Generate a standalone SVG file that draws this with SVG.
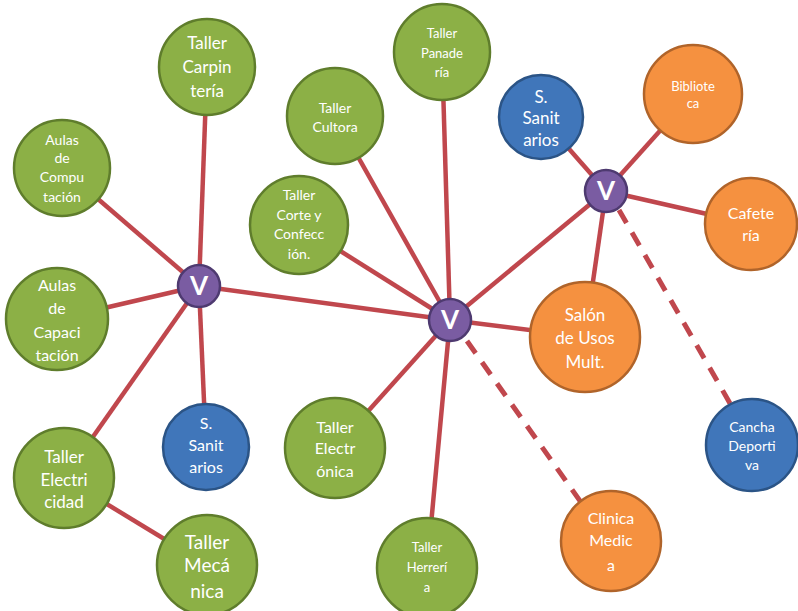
<svg xmlns="http://www.w3.org/2000/svg" width="798" height="611" viewBox="0 0 798 611">
<style>
.c{stroke:#c0474d;stroke-width:4.5;fill:none}
.d{stroke:#c0474d;stroke-width:5;fill:none;stroke-dasharray:15 11}
.g{fill:#8cb046;stroke:#5f7d2c;stroke-width:2.5}
.o{fill:#f59140;stroke:#b0642a;stroke-width:2.5}
.b{fill:#4076ba;stroke:#2b5486;stroke-width:2.5}
.p{fill:#7a5ca2;stroke:#4e3a70;stroke-width:2.5}
text{fill:#fff;font-family:Lato,"Open Sans","Liberation Sans",sans-serif;text-anchor:middle}
.v{font-size:26px;font-weight:bold}
</style>
<rect width="798" height="611" fill="#fff"/>
<g id="connectors">
<line class="c" x1="199" y1="286" x2="207" y2="67"/>
<line class="c" x1="199" y1="286" x2="62" y2="168"/>
<line class="c" x1="199" y1="286" x2="57" y2="319"/>
<line class="c" x1="199" y1="286" x2="64" y2="478"/>
<line class="c" x1="199" y1="286" x2="206" y2="447"/>
<line class="c" x1="199" y1="286" x2="450" y2="320"/>
<line class="c" x1="450" y1="320" x2="335" y2="116"/>
<line class="c" x1="450" y1="320" x2="442" y2="52"/>
<line class="c" x1="450" y1="320" x2="299" y2="225"/>
<line class="c" x1="450" y1="320" x2="335" y2="448"/>
<line class="c" x1="450" y1="320" x2="427" y2="568"/>
<line class="c" x1="450" y1="320" x2="585" y2="337"/>
<line class="c" x1="450" y1="320" x2="606" y2="191"/>
<line class="c" x1="606" y1="191" x2="541" y2="117"/>
<line class="c" x1="606" y1="191" x2="693" y2="94"/>
<line class="c" x1="606" y1="191" x2="751" y2="224"/>
<line class="c" x1="606" y1="191" x2="585" y2="337"/>
<line class="c" x1="64" y1="478" x2="207" y2="565"/>
<line class="d" x1="467" y1="341" x2="585" y2="508"/>
<line class="d" x1="619" y1="210" x2="735" y2="412"/>
</g>
<g id="carpinteria"><circle class="g" cx="207" cy="67" r="48"/><text font-size="17"><tspan x="207" y="49">Taller</tspan><tspan x="207" y="73">Carpin</tspan><tspan x="207" y="97">tería</tspan></text></g>
<g id="computacion"><circle class="g" cx="62" cy="168" r="48"/><text font-size="14"><tspan x="62" y="145">Aulas</tspan><tspan x="62" y="163">de</tspan><tspan x="62" y="182">Compu</tspan><tspan x="62" y="202">tación</tspan></text></g>
<g id="cultora"><circle class="g" cx="335" cy="116" r="48"/><text font-size="14"><tspan x="335" y="113">Taller</tspan><tspan x="335" y="132">Cultora</tspan></text></g>
<g id="panaderia"><circle class="g" cx="442" cy="52" r="48"/><text font-size="13"><tspan x="442" y="38">Taller</tspan><tspan x="442" y="58">Panade</tspan><tspan x="442" y="77">ría</tspan></text></g>
<g id="corte"><circle class="g" cx="299" cy="225" r="49"/><text font-size="14"><tspan x="299" y="200">Taller</tspan><tspan x="299" y="220">Corte y</tspan><tspan x="299" y="239">Confecc</tspan><tspan x="299" y="259">ión.</tspan></text></g>
<g id="sanitarios1"><circle class="b" cx="541" cy="117" r="42"/><text font-size="17"><tspan x="541" y="103">S.</tspan><tspan x="541" y="124">Sanit</tspan><tspan x="541" y="146">arios</tspan></text></g>
<g id="biblioteca"><circle class="o" cx="693" cy="94" r="49"/><text font-size="13"><tspan x="693" y="91">Bibliote</tspan><tspan x="693" y="108">ca</tspan></text></g>
<g id="cafeteria"><circle class="o" cx="751" cy="224" r="46"/><text font-size="16"><tspan x="751" y="219">Cafete</tspan><tspan x="751" y="241">ría</tspan></text></g>
<g id="capacitacion"><circle class="g" cx="57" cy="319" r="51"/><text font-size="16"><tspan x="57" y="291">Aulas</tspan><tspan x="57" y="314">de</tspan><tspan x="57" y="338">Capaci</tspan><tspan x="57" y="361">tación</tspan></text></g>
<g id="sanitarios2"><circle class="b" cx="206" cy="447" r="43"/><text font-size="16"><tspan x="206" y="429">S.</tspan><tspan x="206" y="451">Sanit</tspan><tspan x="206" y="473">arios</tspan></text></g>
<g id="electronica"><circle class="g" cx="335" cy="448" r="50"/><text font-size="16"><tspan x="335" y="433">Taller</tspan><tspan x="335" y="454">Electr</tspan><tspan x="335" y="477">ónica</tspan></text></g>
<g id="salon"><circle class="o" cx="585" cy="337" r="55"/><text font-size="17"><tspan x="585" y="321">Salón</tspan><tspan x="585" y="344">de Usos</tspan><tspan x="585" y="368">Mult.</tspan></text></g>
<g id="cancha"><circle class="b" cx="752" cy="445" r="46"/><text font-size="14"><tspan x="752" y="432">Cancha</tspan><tspan x="752" y="451">Deporti</tspan><tspan x="752" y="470">va</tspan></text></g>
<g id="electricidad"><circle class="g" cx="64" cy="478" r="50"/><text font-size="17"><tspan x="64" y="463">Taller</tspan><tspan x="64" y="486">Electri</tspan><tspan x="64" y="508">cidad</tspan></text></g>
<g id="mecanica"><circle class="g" cx="207" cy="565" r="50"/><text font-size="19"><tspan x="207" y="549">Taller</tspan><tspan x="207" y="572">Mecá</tspan><tspan x="207" y="598">nica</tspan></text></g>
<g id="herreria"><circle class="g" cx="427" cy="568" r="50"/><text font-size="13"><tspan x="427" y="552">Taller</tspan><tspan x="427" y="572">Herrerí</tspan><tspan x="427" y="592">a</tspan></text></g>
<g id="clinica"><circle class="o" cx="611" cy="541" r="50"/><text font-size="16"><tspan x="611" y="524">Clinica</tspan><tspan x="611" y="546">Medic</tspan><tspan x="611" y="571">a</tspan></text></g>
<g id="v-left"><circle class="p" cx="199" cy="286" r="21"/><text class="v" x="199" y="295">V</text></g>
<g id="v-center"><circle class="p" cx="450" cy="320" r="21"/><text class="v" x="450" y="329">V</text></g>
<g id="v-right"><circle class="p" cx="606" cy="191" r="21"/><text class="v" x="606" y="200">V</text></g>
</svg>
